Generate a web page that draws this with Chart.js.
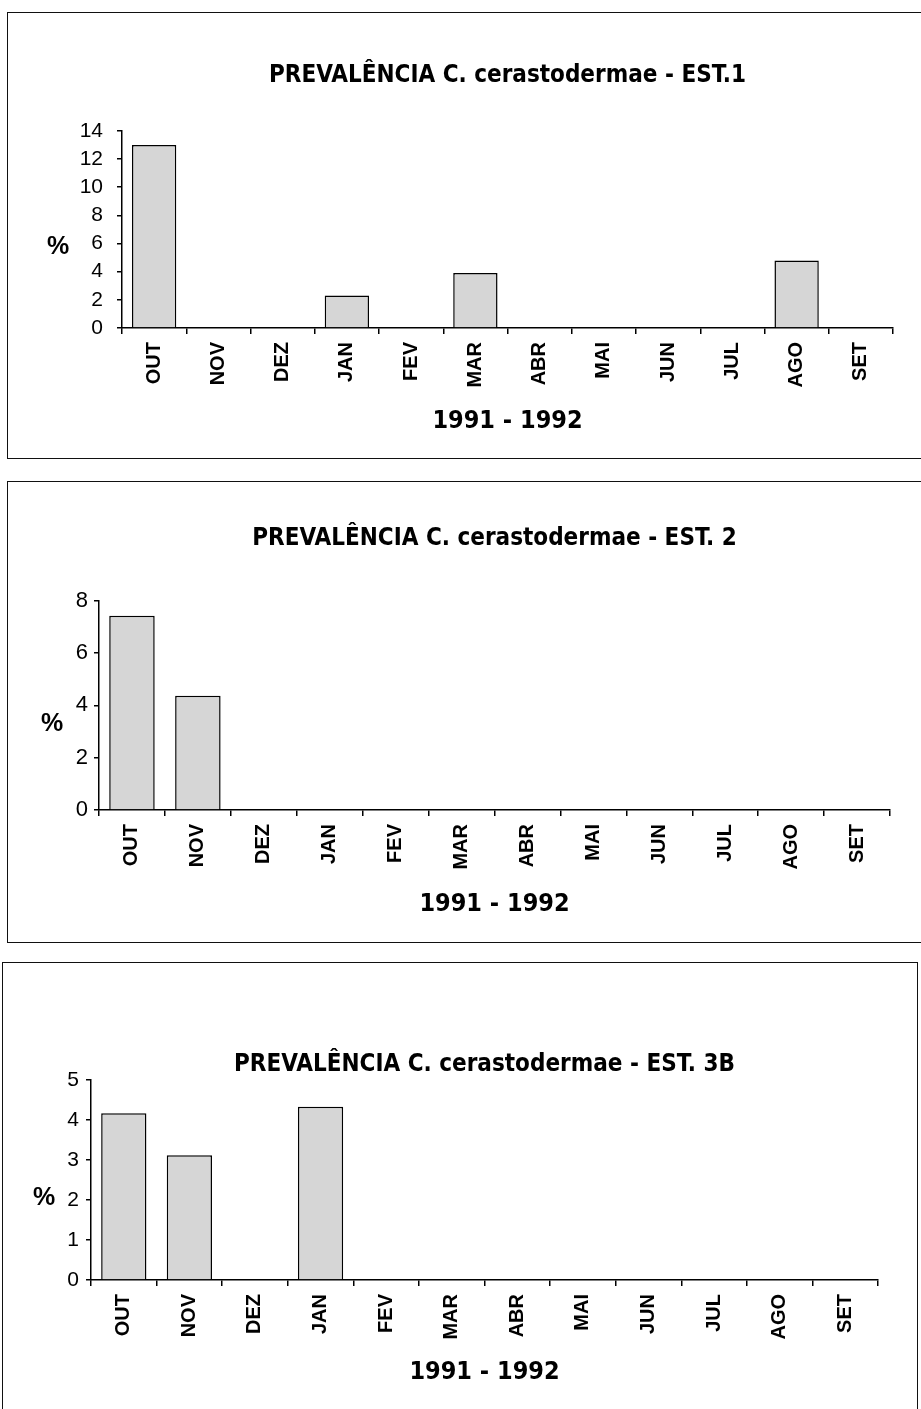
<!DOCTYPE html>
<html>
<head>
<meta charset="utf-8">
<script src="https://cdn.jsdelivr.net/npm/chart.js@4.4.0/dist/chart.umd.min.js"></script>
<style>
  body { margin: 0; width: 921px; height: 1409px; overflow: hidden; background: #fff; position: relative; }
  .frame { position: absolute; box-sizing: border-box; border: 1.5px solid #111; }
  .box { position: absolute; }
  canvas { display: block; }
</style>
</head>
<body>
<div class="frame" style="left:7px;top:12px;width:940px;height:447px"></div>
<div class="frame" style="left:7px;top:481px;width:940px;height:462px"></div>
<div class="frame" style="left:2px;top:962px;width:916px;height:470px"></div>

<div class="box" style="left:8px;top:14px"><canvas id="chart-est1" width="905" height="443"></canvas></div>
<div class="box" style="left:8px;top:483px"><canvas id="chart-est2" width="905" height="457"></canvas></div>
<div class="box" style="left:4px;top:964px"><canvas id="chart-est3b" width="911" height="445"></canvas></div>

<script>
var months = ["OUT", "NOV", "DEZ", "JAN", "FEV", "MAR", "ABR", "MAI", "JUN", "JUL", "AGO", "SET"];
var est1 = [13.0, 0, 0, 2.3, 0, 3.9, 0, 0, 0, 0, 4.8, 0];
var est2 = [7.43, 4.37, 0, 0, 0, 0, 0, 0, 0, 0, 0, 0];
var est3b = [4.17, 3.12, 0, 4.33, 0, 0, 0, 0, 0, 0, 0, 0];
var yearLabel = "1991 - 1992";
var titleEst1 = "PREVALÊNCIA C. cerastodermae - EST.1";
var titleEst2 = "PREVALÊNCIA C. cerastodermae - EST. 2";
var titleEst3b = "PREVALÊNCIA C. cerastodermae - EST. 3B";

var narrow = "'Liberation Sans Narrow', 'Arial Narrow', 'DejaVu Sans Condensed', sans-serif";
var sans = "'Liberation Sans', Arial, sans-serif";

// the "%" sits horizontally left of the y axis, so draw it by hand
var percentSign = {
  id: "percentSign",
  afterDraw: function (chart, args, opts) {
    var ctx = chart.ctx;
    var area = chart.chartArea;
    ctx.save();
    ctx.font = "bold 25px " + sans;
    ctx.fillStyle = "#000";
    ctx.textAlign = "center";
    ctx.textBaseline = "middle";
    ctx.fillText("%", opts.x, area.top + area.height * 0.59);
    ctx.restore();
  }
};

function drawChart(id, values, yMax, yStep, titleText, lay) {
  var ctx = document.getElementById(id);
  return new Chart(ctx, {
    type: "bar",
    data: {
      labels: months,
      datasets: [
        {
          data: values,
          backgroundColor: "#d6d6d6",
          borderColor: "#000",
          borderWidth: 1.5,
          borderSkipped: "bottom",
          barPercentage: 0.69,
          categoryPercentage: 1.0,
        },
      ],
    },
    plugins: [percentSign],
    options: {
      responsive: false,
      animation: false,
      layout: { padding: { left: 0, right: lay.right, top: 0, bottom: 0 } },
      plugins: {
        legend: { display: false },
        tooltip: { enabled: false },
        title: {
          display: true,
          text: titleText,
          fullSize: false,
          color: "#000",
          font: { family: narrow, size: 24, weight: "bold" },
          padding: { top: lay.titleTop, bottom: lay.titleBottom },
        },
        percentSign: { x: lay.percentX },
      },
      scales: {
        x: {
          grid: { offset: true, drawOnChartArea: false, tickLength: 6, color: "#000", lineWidth: 1.5 },
          border: { color: "#000", width: 1.5 },
          ticks: {
            autoSkip: false,
            maxRotation: 90,
            minRotation: 90,
            padding: 8,
            color: "#000",
            font: { family: sans, size: 20, weight: "bold" },
          },
          title: {
            display: true,
            text: yearLabel,
            color: "#000",
            font: { family: narrow, size: 25, weight: "bold" },
            padding: { top: 0, bottom: lay.yearBottom },
          },
          afterFit: function (scale) {
            scale.height = lay.xHeight;
          },
        },
        y: {
          min: 0,
          max: yMax,
          grid: { drawOnChartArea: false, tickLength: 5, color: "#000", lineWidth: 1.5 },
          border: { color: "#000", width: 1.5 },
          ticks: {
            stepSize: yStep,
            autoSkip: false,
            padding: lay.tickPad,
            color: "#000",
            font: { family: sans, size: lay.tickSize },
          },
          afterFit: function (scale) {
            scale.width = lay.yWidth;
          },
        },
      },
    },
  });
}

drawChart("chart-est1", est1, 14, 2, titleEst1, {
  right: 20, titleTop: 47, titleBottom: 41, xHeight: 129, yearBottom: 21,
  yWidth: 114, tickPad: 14, tickSize: 21, percentX: 50,
});

drawChart("chart-est2", est2, 8, 2, titleEst2, {
  right: 23, titleTop: 41, titleBottom: 48, xHeight: 130, yearBottom: 21,
  yWidth: 91, tickPad: 6, tickSize: 22, percentX: 44,
});

drawChart("chart-est3b", est3b, 5, 1, titleEst3b, {
  right: 37, titleTop: 86, titleBottom: 1.2, xHeight: 129, yearBottom: 22,
  yWidth: 87, tickPad: 7, tickSize: 21, percentX: 40,
});
</script>
</body>
</html>
